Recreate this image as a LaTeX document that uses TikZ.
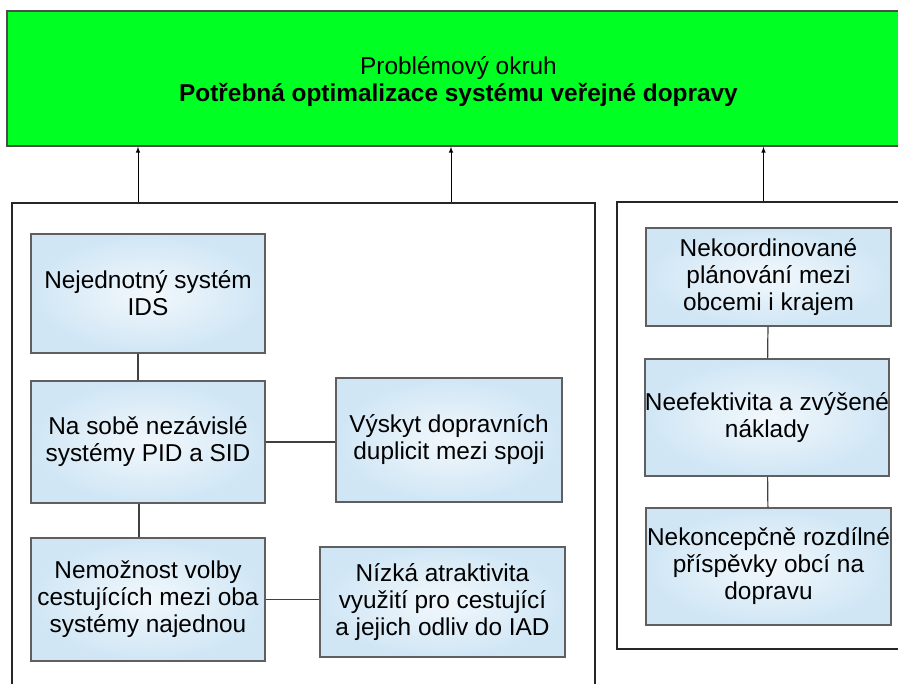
\documentclass[tikz,border=0pt]{standalone}
\usepackage{fontspec}
\setmainfont{Liberation Sans}
\usetikzlibrary{positioning}

\definecolor{problemgreen}{RGB}{0,255,34}
\definecolor{causeblue}{RGB}{208,230,245}
\definecolor{causelight}{RGB}{242,248,252}
\definecolor{causeedge}{RGB}{95,95,95}

\begin{document}
\begin{tikzpicture}[x=1pt, y=-1pt, >=latex,
  panel/.style={draw=black!85, line width=1.8pt, inner sep=0pt},
  problem/.style={draw=black!70, line width=1.5pt, fill=problemgreen, align=center,
    font=\fontsize{24.4}{27}\selectfont},
  cause/.style={draw=causeedge, line width=1.3pt, inner color=causelight, outer color=causeblue,
    align=center, inner xsep=0pt, inner ysep=2pt, minimum width=234pt,
    font=\fontsize{24.4}{27}\selectfont},
  link/.style={draw=black!75, line width=1.2pt}]
  \clip (0,0) rectangle (898,684);

  % the two groups of causes
  \node (leftpanel) [panel, minimum width=583pt, minimum height=497pt] at (303.5,451.5) {};
  \node (rightpanel) [panel, minimum width=293pt, minimum height=447pt] at (763.5,425.5) {};

  \node (problem) [problem, minimum width=903pt, minimum height=135pt] at (458.5,78.5)
    {\rule{0pt}{24pt}Problémový okruh\\\textbf{Potřebná optimalizace systému veřejné dopravy}};

  % left group
  \node (ids) [cause, minimum height=119pt] at (148,293.5) {Nejednotný systém\\IDS};
  \node (nasobe) [cause, minimum height=122pt] at (148,442) {Na sobě nezávislé\\systémy PID a SID};
  \node (nemoznost) [cause, minimum height=123pt] at (148,599.5) {Nemožnost volby\\cestujících mezi oba\\systémy najednou};
  \node (vyskyt) [cause, minimum width=226pt, minimum height=124pt] at (449,440) {Výskyt dopravních\\duplicit mezi spoji};
  \node (nizka) [cause, minimum width=245pt, minimum height=110pt] at (442.5,602) {Nízká atraktivita\\využití pro cestující\\a jejich odliv do IAD};

  % right group
  \node (nekoord) [cause, minimum width=245pt, minimum height=98pt] at (768.5,277) {Nekoordinované\\plánování mezi\\obcemi i krajem};
  \node (neefekt) [cause, minimum width=244pt, minimum height=117pt] at (767,417.5) {Neefektivita a zvýšené\\náklady};
  \node (nekoncep) [cause, minimum width=245pt, minimum height=117pt] at (768.5,566.5) {Nekoncepčně rozdílné\\příspěvky obcí na\\dopravu};

  \draw[link] ([xshift=-10pt]ids.south) -- ([xshift=-10pt]nasobe.north);
  \draw[link] ([xshift=-9pt]nasobe.south) -- ([xshift=-9pt]nemoznost.north);
  \draw[link] (nasobe.east) -- (nasobe.east -| vyskyt.west);
  \draw[link] (nemoznost.east) -- (nemoznost.east -| nizka.west);
  \draw[link] (nekoord) -- (neefekt);
  \draw[link] (neefekt) -- (nekoncep);

  % arrows up to the problem
  \coordinate (a1) at ([xshift=-10pt]ids.north);
  \coordinate (a2) at ([xshift=2pt]vyskyt.north);
  \coordinate (a3) at ([xshift=-5pt]nekoord.north);
  \draw[->, line width=1pt] (a1 |- leftpanel.north) -- (a1 |- problem.south);
  \draw[->, line width=1pt] (a2 |- leftpanel.north) -- (a2 |- problem.south);
  \draw[->, line width=1pt] (a3 |- rightpanel.north) -- (a3 |- problem.south);
\end{tikzpicture}
\end{document}
